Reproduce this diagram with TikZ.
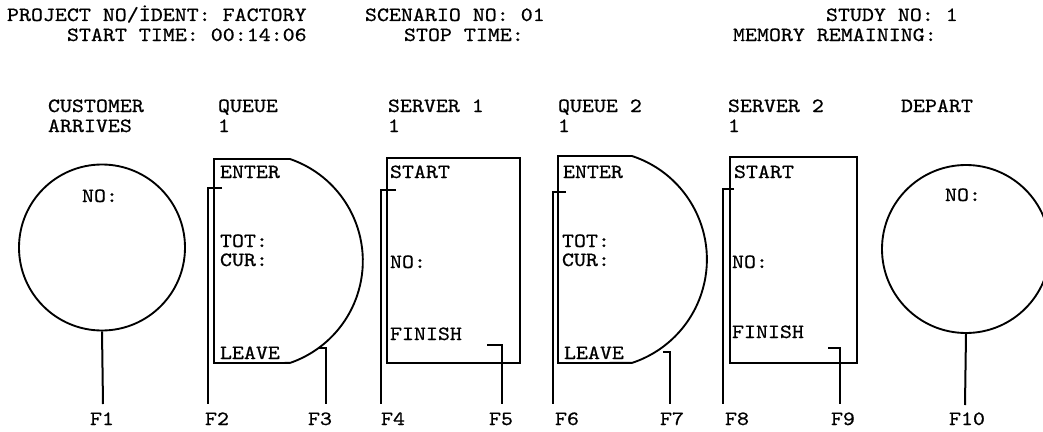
\documentclass[tikz,border=0pt]{standalone}
\usepackage{fontspec}
\setmonofont{lmmono10-regular.otf}[FakeStretch=1.13,FakeBold=0.7]
\begin{document}
\begin{tikzpicture}[x=0.75pt,y=-0.75pt,line width=1.4pt,
  txt/.style={anchor=base west,inner sep=0pt,outer sep=0pt,font=\ttfamily\fontsize{15.15pt}{18pt}\selectfont},
  flab/.style={txt},
  ring/.style={draw,circle,inner sep=0pt,minimum size=124.5pt},
  lead/.style={line width=1.5pt}]
\useasboundingbox (0,0) rectangle (1043,432);
% header
\node[txt] (h1) at (7,21) {PROJECT NO/İDENT: FACTORY};
\node[txt] (h2) at (365,21) {SCENARIO NO: 01};
\node[txt] (h3) at (826,21) {STUDY NO: 1};
\node[txt] (h4) at (67,41) {START TIME: 00:14:06};
\node[txt] (h5) at (404,41) {STOP TIME:};
\node[txt] (h6) at (733,41) {MEMORY REMAINING:};
% titles
\node[txt] (t1a) at (48,112) {CUSTOMER};
\node[txt] (t1b) at (48,132) {ARRIVES};
\node[txt] (t2a) at (218,112) {QUEUE};
\node[txt] (t2b) at (218,132) {1};
\node[txt] (t3a) at (388,112) {SERVER 1};
\node[txt] (t3b) at (388,132) {1};
\node[txt] (t4a) at (558,112) {QUEUE 2};
\node[txt] (t4b) at (558,132) {1};
\node[txt] (t5a) at (728,112) {SERVER 2};
\node[txt] (t5b) at (728,132) {1};
\node[txt] (t6a) at (901,112) {DEPART};
% arrive circle
\node[ring] (arrive) at (102,247.5) {};
\node[txt] (arrno) at (82,202) {NO:};
% queue 1
\coordinate (q1tl) at (214,159);
\coordinate (q1tr) at (290,159);
\coordinate (q1bl) at (214,363);
\draw (q1tl) -- (q1tr) arc[start angle=-71.06,end angle=71.06,radius=107.8] -- (q1bl) -- cycle;
\node[txt] (q1enter) at (220,178) {ENTER};
\node[txt] (q1tot) at (220,247) {TOT:};
\node[txt] (q1cur) at (220,266) {CUR:};
\node[txt] (q1leave) at (220,359) {LEAVE};
% server 1
\node[draw,minimum width=99.75pt,minimum height=153.75pt,inner sep=0pt] (s1) at (453.5,260.5) {};
\node[txt] (s1start) at (390,178) {START};
\node[txt] (s1no) at (390,268) {NO:};
\node[txt] (s1fin) at (390,340) {FINISH};
% queue 2
\coordinate (q2tl) at (558,156);
\coordinate (q2tr) at (632,156);
\coordinate (q2bl) at (558,363);
\draw (q2tl) -- (q2tr) arc[start angle=-71.8,end angle=71.8,radius=108.9] -- (q2bl) -- cycle;
\node[txt] (q2enter) at (563,178) {ENTER};
\node[txt] (q2tot) at (562,247) {TOT:};
\node[txt] (q2cur) at (562,266) {CUR:};
\node[txt] (q2leave) at (564,359) {LEAVE};
% server 2
\node[draw,minimum width=95.25pt,minimum height=154.5pt,inner sep=0pt] (s2) at (793.5,260) {};
\node[txt] (s2start) at (734,178) {START};
\node[txt] (s2no) at (732,268) {NO:};
\node[txt] (s2fin) at (732,338) {FINISH};
% depart circle
\node[ring,minimum size=126pt] (dep) at (966,249) {};
\node[txt] (depno) at (945,201) {NO:};
% F labels
\node[flab] (f1) at (90,425) {F1};
\node[flab] (f2) at (205,425) {F2};
\node[flab] (f3) at (308,425) {F3};
\node[flab] (f4) at (381,425) {F4};
\node[flab] (f5) at (489,425) {F5};
\node[flab] (f6) at (555,425) {F6};
\node[flab] (f7) at (660,425) {F7};
\node[flab] (f8) at (725,425) {F8};
\node[flab] (f9) at (831,425) {F9};
\node[flab] (f10) at (949,425) {F10};
% lead lines
\coordinate (l1) at (103,404);
\draw[lead] (arrive.south) -- (l1);
\coordinate (l2a) at (222,188); \coordinate (l2) at (208,404);
\draw[lead] (l2a) -| (l2);
\coordinate (l3a) at (318.7,348); \coordinate (l3) at (326,404);
\draw[lead] (l3a) -| (l3);
\coordinate (l4a) at (396,190); \coordinate (l4) at (381,404);
\draw[lead] (l4a) -| (l4);
\coordinate (l5a) at (487,345); \coordinate (l5) at (502,404);
\draw[lead] (l5a) -| (l5);
\coordinate (l6a) at (566,192); \coordinate (l6) at (553,404);
\draw[lead] (l6a) -| (l6);
\coordinate (l7a) at (663,352); \coordinate (l7) at (670,404);
\draw[lead] (l7a) -| (l7);
\coordinate (l8a) at (734,189); \coordinate (l8) at (723,404);
\draw[lead] (l8a) -| (l8);
\coordinate (l9a) at (828,348); \coordinate (l9) at (840,404);
\draw[lead] (l9a) -| (l9);
\coordinate (l10) at (965,405);
\draw[lead] (dep.south) -- (l10);
\end{tikzpicture}
\end{document}
